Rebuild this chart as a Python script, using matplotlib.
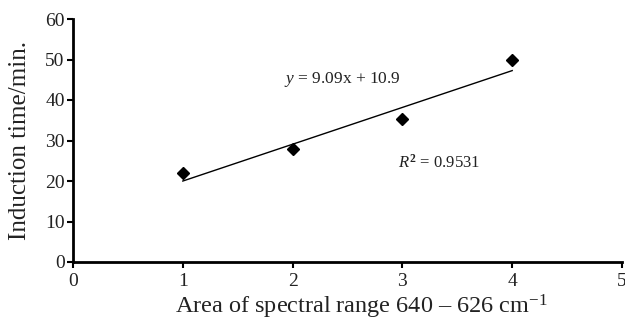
import matplotlib
matplotlib.use("Agg")
import matplotlib.pyplot as plt
import numpy as np

x_vals = [1, 2, 3, 4]
y_vals = [22.0, 27.8, 35.4, 49.9]
slope = 9.09
intercept = 10.9
x_ticks = [0, 1, 2, 3, 4, 5]
y_ticks = [0, 10, 20, 30, 40, 50, 60]

plt.rcParams['font.family'] = ['Liberation Serif', 'DejaVu Serif']
plt.rcParams['mathtext.fontset'] = 'custom'
plt.rcParams['mathtext.rm'] = 'Liberation Serif'
plt.rcParams['mathtext.it'] = 'Liberation Serif:italic'
plt.rcParams['mathtext.bf'] = 'Liberation Serif:bold'

txt = '#222222'
fig = plt.figure(figsize=(6.25, 3.21), dpi=100)
ax = fig.add_axes([73/625, 1-262/321, (622-73)/625, (262-19)/321])

fx = np.array([min(x_vals), max(x_vals)])
ax.plot(fx, slope*fx + intercept, color='black', lw=1.0)
ax.plot(x_vals, y_vals, 'D', color='black', markersize=6)

ax.set_xlim(0, 5)
ax.set_ylim(0, 60)
ax.set_xticks(x_ticks)
ax.set_yticks(y_ticks)
for s in ['top', 'right']:
    ax.spines[s].set_visible(False)
for s in ['left', 'bottom']:
    ax.spines[s].set_linewidth(2.0)
ax.tick_params(axis='both', labelsize=14, width=1.5, length=4, direction='out',
               labelcolor=txt)
ax.tick_params(axis='x', pad=4)
ax.tick_params(axis='y', pad=2)

ax.text(2.45, 45, r'$y$ = 9.09x + 10.9', fontsize=12.5, ha='center', va='center', color=txt)
ax.text(2.96, 24.4, r'$R^\mathbf{2}$ = 0.9531', fontsize=12, ha='left', va='center', color=txt)

fig.text(361/625, 1-307/321, r'Area of spectral range 640 – 626 cm$^{\mathregular{-1}}$',
         fontsize=17.5, ha='center', va='center', color=txt)
fig.text(20/625, 1-140/321, 'Induction time/min.', fontsize=18, ha='center', va='center',
         rotation=90, color=txt)

fig.savefig('out.png', dpi=100)
